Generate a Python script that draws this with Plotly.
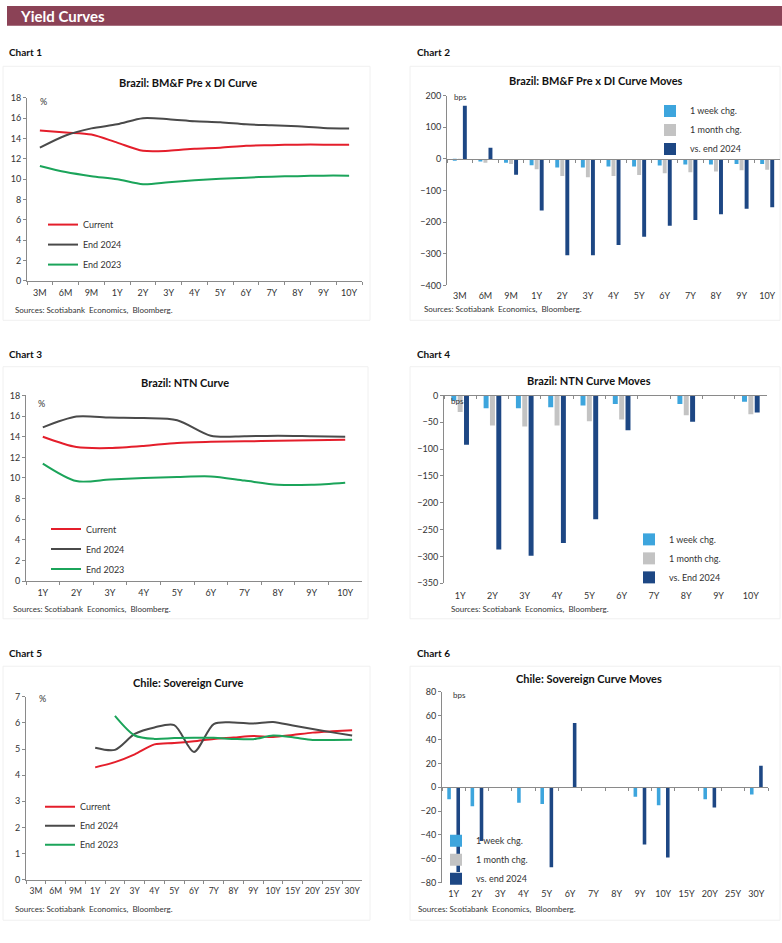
import plotly.graph_objects as go

W, H = 782, 943

# ---------------- data ----------------
c1_cats = ["3M", "6M", "9M", "1Y", "2Y", "3Y", "4Y", "5Y", "6Y", "7Y", "8Y", "9Y", "10Y"]
c1_current = [14.8, 14.6, 14.4, 13.6, 12.8, 12.8, 13.0, 13.1, 13.3, 13.35, 13.4, 13.4, 13.4]
c1_end2024 = [13.1, 14.3, 15.0, 15.4, 16.0, 15.9, 15.7, 15.6, 15.4, 15.3, 15.2, 15.05, 15.0]
c1_end2023 = [11.3, 10.7, 10.3, 10.0, 9.5, 9.7, 9.9, 10.05, 10.15, 10.25, 10.3, 10.35, 10.35]

c2_cats = ["3M", "6M", "9M", "1Y", "2Y", "3Y", "4Y", "5Y", "6Y", "7Y", "8Y", "9Y", "10Y"]
c2_week = [-3, -8, -12, -20, -27, -27, -24, -24, -21, -18, -18, -16, -16]
c2_month = [-2, -12, -16, -33, -54, -58, -54, -51, -45, -42, -40, -36, -34]
c2_ytd = [168, 35, -50, -163, -305, -305, -272, -246, -211, -193, -175, -158, -153]

c3_cats = ["1Y", "2Y", "3Y", "4Y", "5Y", "6Y", "7Y", "8Y", "9Y", "10Y"]
c3_current = [14.0, 13.0, 12.9, 13.1, 13.4, 13.5, 13.55, 13.6, 13.65, 13.7]
c3_end2024 = [14.9, 15.95, 15.85, 15.8, 15.6, 14.1, 14.05, 14.1, 14.05, 14.0]
c3_end2023 = [11.4, 9.7, 9.85, 10.0, 10.1, 10.15, 9.75, 9.35, 9.35, 9.55]

c4_cats = ["1Y", "2Y", "3Y", "4Y", "5Y", "6Y", "7Y", "8Y", "9Y", "10Y"]
c4_week = [-10, -24, -24, -22, -19, -16, None, -16, None, -12]
c4_month = [-31, -56, -58, -56, -48, -45, None, -37, None, -35]
c4_ytd = [-92, -287, -299, -275, -231, -65, None, -49, None, -32]

c5_cats = ["3M", "6M", "9M", "1Y", "2Y", "3Y", "4Y", "5Y", "6Y", "7Y", "8Y", "9Y",
           "10Y", "15Y", "20Y", "25Y", "30Y"]
c5_current = [None, None, None, 4.3, 4.5, 4.8, 5.18, 5.23, 5.3, 5.39, 5.44, 5.5,
              5.46, 5.54, 5.63, 5.68, 5.72]
c5_end2024 = [None, None, None, 5.05, 4.97, 5.58, 5.83, 5.92, 4.89, 5.96, 6.02, 5.98,
              6.04, 5.9, 5.77, 5.64, 5.52]
c5_end2023 = [None, None, None, None, 6.27, 5.52, 5.39, 5.42, 5.43, 5.43, 5.39, 5.38,
              5.52, 5.45, 5.35, 5.35, 5.36]

c6_cats = ["1Y", "2Y", "3Y", "4Y", "5Y", "6Y", "7Y", "8Y", "9Y", "10Y", "15Y", "20Y", "25Y", "30Y"]
c6_week = [-10, -16, None, -13, -14, None, None, None, -8, -15, None, -10, None, -6]
c6_month = [None] * 14
c6_ytd = [-71, -45, None, None, -67, 54, None, None, -48, -59, None, -17, None, 18]

# ---------------- styles ----------------
FONT = "Lato"
RED, GREY, GREEN = "#E41E2B", "#4A4A4A", "#1BA45A"
LB, LG, DB = "#3DA5DD", "#C3C3C3", "#1D4784"
AX = "#8A8A8A"
TXT = "#333333"


def px_x(p):
    return p / W


def px_y(p):
    return 1 - p / H


def xdom(a, b):
    return [px_x(a), px_x(b)]


def ydom(top, bottom):
    return [px_y(bottom), px_y(top)]


fig = go.Figure()
layout = dict(
    width=W, height=H, autosize=False,
    margin=dict(l=0, r=0, t=0, b=0),
    paper_bgcolor="white", plot_bgcolor="white",
    font=dict(family=FONT, size=9, color=TXT),
    barmode="group", bargap=0.41, bargroupgap=0.22,
    annotations=[], shapes=[],
)


def cat_axis(cats, dom, anchor, show_line=True, tickcol=AX, fsize=9, standoff=3):
    return dict(
        domain=dom, anchor=anchor, type="category",
        categoryorder="array", categoryarray=cats,
        range=[-0.5, len(cats) - 0.5],
        showline=show_line, linecolor=AX, linewidth=1,
        ticks="outside", ticklen=3, tickcolor=tickcol, tickson="boundaries",
        showgrid=False, zeroline=False, tickangle=0, ticklabelstandoff=standoff,
        tickfont=dict(size=fsize, color=TXT, family=FONT),
        fixedrange=True,
    )


def val_axis(rng, dtick, dom, anchor):
    return dict(
        domain=dom, anchor=anchor, range=rng, dtick=dtick,
        showline=True, linecolor=AX, linewidth=1,
        ticks="outside", ticklen=3, tickcolor=AX,
        showgrid=False, zeroline=False,
        tickfont=dict(size=9, color=TXT, family=FONT),
        fixedrange=True,
    )


def legend_box(x, y, gap):
    return dict(
        x=px_x(x), y=px_y(y), xanchor="left", yanchor="top",
        xref="paper", yref="paper",
        bgcolor="rgba(0,0,0,0)", borderwidth=0,
        font=dict(size=9, color=TXT, family=FONT),
        traceorder="grouped", tracegroupgap=gap, itemwidth=30,
    )


def add_text(x, y, text, size=9, bold=False, anchor="left", color=TXT):
    layout["annotations"].append(dict(
        x=px_x(x), y=px_y(y), xref="paper", yref="paper",
        text=f"<b>{text}</b>" if bold else text, showarrow=False,
        xanchor=anchor, yanchor="middle",
        font=dict(size=size, color=color, family=FONT),
    ))


def line_chart(idx, cats, series, xd, yd, yrng, dtick, leg, fsize=9):
    xs = "x" if idx == 1 else f"x{idx}"
    ys = "y" if idx == 1 else f"y{idx}"
    lname = "legend" if idx == 1 else f"legend{idx}"
    for name, vals, col in series:
        fig.add_trace(go.Scatter(
            x=cats, y=vals, name=name, mode="lines",
            line=dict(color=col, width=2, shape="spline", smoothing=0.8),
            xaxis=xs, yaxis=ys, legend=lname, legendgroup=f"{idx}{name}",
            connectgaps=False, hoverinfo="skip",
        ))
    layout["xaxis" if idx == 1 else f"xaxis{idx}"] = cat_axis(cats, xd, ys, fsize=fsize)
    layout["yaxis" if idx == 1 else f"yaxis{idx}"] = val_axis(yrng, dtick, yd, xs)
    layout[lname] = leg


def bar_chart(idx, ovl, cats, series, xd, yd, yrng, dtick, leg, standoff=4):
    xs, ys = f"x{idx}", f"y{idx}"
    lname = f"legend{idx}"
    for name, vals, col in series:
        fig.add_trace(go.Bar(
            x=cats, y=vals, name=name, marker=dict(color=col, line=dict(width=0)),
            xaxis=xs, yaxis=ys, legend=lname, legendgroup=f"{idx}{name}",
            hoverinfo="skip",
        ))
    layout[f"xaxis{idx}"] = cat_axis(cats, xd, ys, show_line=False,
                                     tickcol="rgba(0,0,0,0)", standoff=standoff)
    layout[f"yaxis{idx}"] = val_axis(yrng, dtick, yd, xs)
    # zero axis line with tick marks
    zpos = yd[0] + (0 - yrng[0]) / (yrng[1] - yrng[0]) * (yd[1] - yd[0])
    ov = cat_axis(cats, xd, "free")
    ov.update(overlaying=xs, position=zpos, showticklabels=False)
    layout[f"xaxis{ovl}"] = ov
    fig.add_trace(go.Scatter(x=cats, y=[None] * len(cats), xaxis=f"x{ovl}", yaxis=ys,
                             showlegend=False, hoverinfo="skip", mode="lines"))
    layout[lname] = leg


# ---------------- header ----------------
layout["shapes"].append(dict(type="rect", xref="paper", yref="paper",
                             x0=px_x(7), x1=1, y0=px_y(20), y1=1,
                             fillcolor="#8B4256", line=dict(width=0), layer="below"))
add_text(18, 10, "Yield Curves", size=15, bold=True, color="white")

# chart frames (x0, y0, x1, y1)
for (a, b, c, d) in [(3, 61, 370, 318), (410, 61, 780, 318), (3, 365, 368, 620),
                     (410, 365, 780, 620), (3, 668, 370, 925), (410, 668, 780, 925)]:
    layout["shapes"].append(dict(type="rect", xref="paper", yref="paper",
                                 x0=px_x(a), x1=px_x(c), y0=px_y(d), y1=px_y(b),
                                 line=dict(color="#F0F0F0", width=1), layer="below"))

for x, y, t in [(7, 47, "Chart 1"), (415, 47, "Chart 2"), (7, 352, "Chart 3"),
                (415, 352, "Chart 4"), (7, 655, "Chart 5"), (415, 655, "Chart 6")]:
    add_text(x, y, t, size=10, bold=True, color="#111111")

# ---------------- Chart 1 ----------------
line_chart(1, c1_cats,
           [("Current", c1_current, RED), ("End 2024", c1_end2024, GREY), ("End 2023", c1_end2023, GREEN)],
           xdom(27, 362), ydom(93, 278), [0, 18], 2, legend_box(43, 206.5, 1))
add_text(188, 77, "Brazil: BM&F Pre x DI Curve", size=11, bold=True, anchor="center", color="#111111")
add_text(38, 97, "%", size=9)
add_text(13, 308, "Sources: Scotiabank  Economics,  Bloomberg.", size=8)

# ---------------- Chart 2 ----------------
bar_chart(2, 7, c2_cats,
          [("1 week chg.", c2_week, LB), ("1 month chg.", c2_month, LG), ("vs. end 2024", c2_ytd, DB)],
          xdom(447, 780), ydom(90.7, 282.7), [-400, 200], 100, legend_box(650, 91.5, 0))
add_text(596, 75, "Brazil: BM&F Pre x DI Curve Moves", size=11, bold=True, anchor="center", color="#111111")
add_text(452, 92, "bps", size=8)
add_text(422, 307, "Sources: Scotiabank  Economics,  Bloomberg.", size=8)

# ---------------- Chart 3 ----------------
line_chart(3, c3_cats,
           [("Current", c3_current, RED), ("End 2024", c3_end2024, GREY), ("End 2023", c3_end2023, GREEN)],
           xdom(26, 362), ydom(394, 582), [0, 18], 2, legend_box(46, 514.5, 1))
add_text(185, 381, "Brazil: NTN Curve", size=11, bold=True, anchor="center", color="#111111")
add_text(36, 402, "%", size=9)
add_text(11, 610, "Sources: Scotiabank  Economics,  Bloomberg.", size=8)

# ---------------- Chart 4 ----------------
bar_chart(4, 8, c4_cats,
          [("1 week chg.", c4_week, LB), ("1 month chg.", c4_month, LG), ("vs. End 2024", c4_ytd, DB)],
          xdom(444, 767), ydom(394, 584), [-350, 0], 50, legend_box(629, 525, 0), standoff=6)
add_text(589, 379, "Brazil: NTN Curve Moves", size=11, bold=True, anchor="center", color="#111111")
add_text(449, 400, "bps", size=8)
add_text(449, 610, "Sources: Scotiabank  Economics,  Bloomberg.", size=8)

# ---------------- Chart 5 ----------------
line_chart(5, c5_cats,
           [("Current", c5_current, RED), ("End 2024", c5_end2024, GREY), ("End 2023", c5_end2023, GREEN)],
           xdom(26, 362), ydom(699, 884), [0, 7], 1, legend_box(40, 795.5, 0), fsize=8.5)
add_text(188, 684, "Chile: Sovereign Curve", size=11, bold=True, anchor="center", color="#111111")
add_text(37, 701, "%", size=9)
add_text(13, 914, "Sources: Scotiabank  Economics,  Bloomberg.", size=8)

# ---------------- Chart 6 ----------------
bar_chart(6, 9, c6_cats,
          [("1 week chg.", c6_week, LB), ("1 month chg.", c6_month, LG), ("vs. end 2024", c6_ytd, DB)],
          xdom(442, 768), ydom(694, 887), [-80, 80], 20, legend_box(436, 830, 0))
add_text(589, 680, "Chile: Sovereign Curve Moves", size=11, bold=True, anchor="center", color="#111111")
add_text(451, 697, "bps", size=8)
add_text(416, 914, "Sources: Scotiabank  Economics,  Bloomberg.", size=8)

fig.update_layout(**layout)
fig.write_html(
    "out.html",
    config={"displayModeBar": False},
    post_script=(
        "document.documentElement.style.margin='0';"
        "document.body.style.margin='0';document.body.style.padding='0';"
        "document.documentElement.style.overflow='hidden';"
        "var g=document.getElementById('{plot_id}');"
        "g.style.position='fixed';g.style.top='0px';g.style.left='0px';"
    ),
)
